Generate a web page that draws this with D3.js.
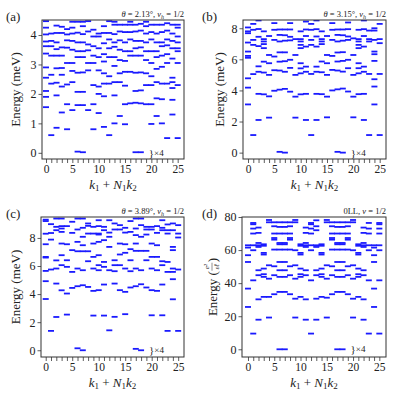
<!DOCTYPE html>
<html>
<head>
<meta charset="utf-8">
<script src="https://cdnjs.cloudflare.com/ajax/libs/d3/7.8.5/d3.min.js"></script>
<style>
  body { margin: 0; background: #fff; }
  svg text { font-family: "Liberation Serif", "Times New Roman", serif; fill: #222; }
</style>
</head>
<body>
<svg id="chart" width="397" height="397"></svg>
<script>
// momentum index k1 + N1 k2
var kIndex = [0, 1, 2, 3, 4, 5, 6, 7, 8, 9, 10, 11, 12, 13, 14, 15, 16, 17, 18, 19, 20, 21, 22, 23, 24, 25];

// energies per k (meV), theta = 2.13
var levelsA = [
  [4.47, 4.25, 4.02, 3.78, 3.62, 3.37, 2.9, 2.55, 2.1, 1.9, 1.55],
  [4.05, 3.8, 3.62, 3.3, 2.65, 2.35, 0.6],
  [4.32, 4.07, 3.75, 3.52, 3.3, 2.87, 2.38, 1.95, 0.85],
  [4.28, 4.07, 3.58, 3.3, 2.88, 2.65, 2.25, 1.37],
  [4.2, 4.02, 3.82, 3.57, 3.05, 2.32, 1.65, 0.8],
  [4.45, 4.25, 4.05, 3.8, 3.5, 3.05, 2.78, 2.4, 1.45],
  [4.45, 4.08, 3.75, 3.45, 3.25, 2.72, 2.07, 1.62, 0.04],
  [4.45, 4.3, 4.03, 3.75, 3.45, 3.25, 2.73, 2.07, 1.62, 0.02],
  [4.47, 4.12, 3.68, 3.48, 3.05, 2.8, 1.45],
  [4.18, 3.95, 3.62, 3.3, 3.05, 2.3, 1.65, 0.8],
  [4.05, 3.95, 3.55, 3.25, 2.8, 2.25, 2.0, 1.35],
  [4.3, 4.07, 3.72, 3.35, 3.1, 2.7, 2.35, 1.92, 0.88],
  [4.47, 4.07, 3.85, 3.55, 3.25, 2.6, 2.35, 0.6],
  [4.45, 4.35, 4.03, 3.75, 3.6, 3.25, 2.95, 2.4, 1.95, 1.0],
  [4.35, 4.12, 3.82, 3.5, 3.15, 2.7, 2.4, 1.25],
  [4.35, 4.1, 3.75, 3.45, 3.12, 2.75, 2.28, 1.65, 0.97],
  [4.45, 4.35, 4.1, 3.85, 3.45, 3.3, 2.75, 1.68],
  [4.35, 4.12, 3.8, 3.55, 3.3, 2.72, 2.1, 1.7, 0.02],
  [4.38, 4.15, 3.8, 3.58, 3.3, 2.73, 2.12, 1.68, 0.02],
  [4.45, 4.3, 4.05, 3.75, 3.45, 3.15, 2.7, 2.3, 1.65],
  [4.35, 4.1, 3.85, 3.45, 3.05, 2.6, 2.3, 1.65, 0.98],
  [4.35, 4.05, 3.75, 3.45, 3.25, 2.85, 2.4, 1.85, 1.25],
  [4.35, 4.1, 3.75, 3.62, 3.3, 2.92, 2.35, 1.82, 1.0],
  [4.4, 4.15, 3.85, 3.65, 3.35, 3.05, 2.35, 0.5],
  [4.35, 4.05, 3.8, 3.55, 3.2, 2.55, 2.4, 2.2, 1.8, 1.3],
  [4.35, 4.25, 3.95, 3.75, 3.55, 3.45, 3.05, 2.3, 0.5]
];

// theta = 3.15
var levelsB = [
  [8.05, 7.8, 7.68, 7.08, 6.5, 6.22, 6.1, 4.78, 4.18, 3.1],
  [8.28, 7.9, 7.25, 6.93, 5.05, 1.13],
  [8.5, 7.95, 7.45, 6.85, 5.55, 5.2, 3.78, 2.1],
  [7.8, 7.3, 7.15, 6.98, 6.72, 5.85, 5.15, 3.75],
  [7.5, 6.28, 5.75, 5.0, 3.62, 2.25],
  [8.33, 7.9, 7.25, 6.18, 5.3, 3.98],
  [7.92, 7.57, 7.15, 6.45, 5.85, 5.28, 4.05, 0.05],
  [7.92, 7.55, 7.2, 6.45, 5.88, 5.2, 4.1, 0.0],
  [8.33, 7.92, 7.45, 7.22, 5.97, 5.45, 3.92],
  [7.3, 6.28, 5.0, 3.6, 2.25],
  [7.8, 7.3, 7.15, 6.93, 6.72, 5.75, 5.42, 5.1, 3.75],
  [8.43, 7.92, 7.5, 6.82, 5.53, 5.2, 3.78, 2.1],
  [8.28, 7.9, 7.25, 6.93, 5.06, 1.13],
  [8.5, 7.94, 7.47, 6.82, 5.53, 5.2, 3.78, 2.1],
  [7.8, 7.3, 7.15, 6.98, 5.86, 5.17, 3.76],
  [7.5, 6.28, 5.75, 5.0, 3.6, 2.27],
  [8.33, 7.9, 7.25, 6.22, 5.32, 4.0],
  [7.92, 7.57, 7.15, 6.44, 5.86, 5.28, 4.07, 0.05],
  [7.92, 7.55, 7.2, 6.46, 5.9, 5.21, 4.12, 0.0],
  [8.37, 7.94, 7.47, 7.25, 5.97, 5.43, 3.93],
  [7.35, 6.28, 5.0, 3.6, 2.27],
  [7.9, 7.3, 7.15, 6.93, 6.72, 5.75, 5.43, 5.1, 3.76],
  [8.5, 7.94, 7.5, 6.82, 5.53, 5.2, 3.78, 2.1],
  [7.85, 7.3, 7.15, 5.06, 1.13],
  [8.0, 7.85, 7.25, 6.5, 6.33, 5.9, 4.72, 4.25, 3.1],
  [8.28, 7.3, 7.04, 5.06, 1.13]
];

// theta = 3.89
var levelsC = [
  [9.3, 9.2, 8.3, 7.55, 6.65, 6.6, 5.65, 4.92, 3.65],
  [8.98, 8.35, 7.88, 5.75, 1.38],
  [9.38, 8.79, 8.55, 6.4, 5.82, 4.75, 2.37],
  [9.38, 8.84, 8.67, 8.43, 7.6, 6.77, 6.06, 4.27],
  [8.84, 7.55, 6.41, 5.94, 4.04, 2.54],
  [9.15, 8.36, 7.13, 5.58, 4.44],
  [9.38, 8.6, 7.72, 7.05, 5.82, 4.56, 0.14],
  [9.38, 8.72, 8.08, 7.48, 7.05, 5.7, 4.63, 0.0],
  [9.03, 8.86, 8.31, 7.05, 6.34, 4.51],
  [8.79, 8.31, 7.6, 6.65, 5.82, 4.23, 2.47],
  [9.26, 8.84, 8.31, 8.24, 7.72, 6.77, 6.06, 5.7, 4.28],
  [8.79, 8.55, 7.84, 6.29, 5.94, 4.68, 2.47],
  [9.26, 8.38, 8.08, 7.36, 5.7, 1.42],
  [9.03, 8.6, 6.41, 6.06, 5.63, 4.75, 2.38],
  [8.91, 8.6, 7.6, 6.82, 6.06, 4.28],
  [8.72, 8.38, 7.55, 6.94, 5.82, 4.16, 2.57],
  [9.2, 8.43, 7.2, 6.41, 5.63, 4.47],
  [9.38, 8.67, 8.2, 7.6, 7.08, 5.82, 4.56, 0.1],
  [9.38, 8.91, 8.08, 7.08, 5.7, 4.7, 0.0],
  [8.79, 8.6, 8.24, 7.08, 6.41, 4.47],
  [8.79, 8.6, 7.6, 6.65, 5.82, 4.28, 2.49],
  [8.84, 8.36, 7.48, 6.65, 5.7, 4.23],
  [9.26, 8.72, 8.55, 6.34, 6.06, 4.68, 2.49],
  [8.96, 8.55, 8.31, 6.29, 5.58, 1.38],
  [9.03, 8.55, 7.36, 7.13, 5.82, 5.58, 5.06, 3.63],
  [8.91, 8.31, 8.03, 5.75, 1.38]
];

// zeroth Landau level, units e^2/(eps l)
var levelsD = [
  [62.9, 61.5, 56.9, 52.8, 36.7, 25.6],
  [76.4, 75.6, 73.0, 70.0, 62.9, 59.9, 41.7, 9.5],
  [73.6, 70.4, 64.3, 62.9, 61.9, 47.8, 44.8, 30.2, 17.9],
  [63.5, 62.6, 58.3, 57.3, 48.8, 45.4, 43.8, 31.7],
  [78.2, 76.8, 50.8, 42.7, 31.7, 19.2],
  [76.8, 74.4, 70.0, 67.3, 66.3, 60.3, 50.2, 44.8, 33.3],
  [76.8, 74.0, 70.0, 64.3, 63.5, 60.3, 52.8, 47.8, 43.8, 34.7, 0.0],
  [76.8, 74.0, 70.0, 64.3, 63.5, 60.3, 52.8, 47.8, 43.8, 34.7, 0.0],
  [76.8, 74.4, 70.0, 67.3, 66.3, 60.3, 50.2, 44.8, 33.3],
  [78.2, 76.8, 59.9, 50.8, 42.7, 30.6, 19.2],
  [63.5, 62.6, 58.3, 57.3, 48.8, 45.4, 43.8, 31.7],
  [73.6, 70.4, 64.3, 62.9, 61.9, 47.8, 44.8, 30.2, 17.9],
  [76.4, 75.6, 73.0, 70.0, 62.9, 59.9, 41.7, 9.5],
  [78.0, 74.4, 72.0, 62.9, 61.9, 47.8, 44.8, 30.6, 17.9],
  [63.5, 62.6, 58.3, 57.3, 48.8, 45.4, 43.8, 31.7],
  [78.2, 76.8, 50.8, 42.7, 31.2, 19.2],
  [76.8, 74.4, 70.0, 67.3, 66.3, 60.3, 50.2, 44.8, 33.3],
  [76.8, 74.0, 70.0, 64.3, 63.5, 60.3, 52.8, 47.8, 43.8, 34.7, 0.0],
  [76.8, 74.0, 70.0, 64.3, 63.5, 60.3, 52.8, 47.8, 43.8, 34.7, 0.0],
  [76.8, 74.4, 70.0, 67.3, 66.3, 60.3, 50.2, 44.8, 33.3],
  [78.2, 76.8, 59.9, 50.8, 42.7, 30.6, 19.2],
  [63.5, 62.6, 58.3, 57.3, 48.8, 45.4, 43.8, 31.7],
  [73.6, 70.4, 64.3, 62.9, 61.9, 47.8, 44.8, 30.2, 17.9],
  [76.4, 73.0, 70.0, 62.9, 59.9, 41.7, 9.5],
  [62.9, 61.5, 56.9, 52.8, 36.7, 25.6],
  [76.4, 75.6, 73.0, 70.0, 62.9, 59.9, 41.7, 9.5]
];

var xTickLabels = [0, 5, 10, 15, 20, 25];
var yTicksA = [0, 1, 2, 3, 4];
var yTicksB = [0, 2, 4, 6, 8];
var yTicksC = [0, 2, 4, 6, 8];
var yTicksD = [0, 20, 40, 60, 80];
var panelLabels = ["(a)", "(b)", "(c)", "(d)"];
var thetaLabels = ["2.13", "3.15", "3.89"];

var svg = d3.select("#chart");
var blue = "#1a1aff";
var axisColor = "#333";
var serif = "Liberation Serif, Times New Roman, serif";

function drawPanel(p, i) {
  var x = d3.scaleLinear().domain(p.xDom).range([p.left, p.right]);
  var y = d3.scaleLinear().domain(p.yDom).range([p.bottom, p.top]);
  var g = svg.append("g");

  g.append("clipPath").attr("id", "clip" + i)
    .append("rect")
    .attr("x", p.left).attr("y", p.top)
    .attr("width", p.right - p.left).attr("height", p.bottom - p.top);

  // flatten levels into points
  var pts = [];
  kIndex.forEach(function (k, j) {
    p.levels[j].forEach(function (e) { pts.push({ k: k, e: e }); });
  });

  g.append("g").attr("clip-path", "url(#clip" + i + ")")
    .selectAll("line").data(pts).enter().append("line")
    .attr("x1", d => x(d.k) - 3)
    .attr("x2", d => x(d.k) + 3)
    .attr("y1", d => y(d.e))
    .attr("y2", d => y(d.e))
    .attr("stroke", blue)
    .attr("stroke-width", 1.8);

  // x axis: tick every k, labels every 5
  var xAxis = d3.axisBottom(x).tickValues(kIndex).tickSize(4).tickPadding(1.5)
    .tickFormat(d => xTickLabels.indexOf(d) >= 0 ? d : "");
  var xg = g.append("g").attr("transform", "translate(0," + p.bottom + ")").call(xAxis);
  xg.attr("font-family", serif);
  xg.select(".domain").remove();
  xg.selectAll("line").attr("stroke", axisColor).attr("stroke-width", 0.8);
  xg.selectAll("text").attr("font-size", 11.5).attr("fill", "#222");

  var yAxis = d3.axisLeft(y).tickValues(p.yTicks).tickSize(3.5).tickPadding(2)
    .tickFormat(d3.format("d"));
  var yg = g.append("g").attr("transform", "translate(" + p.left + ",0)").call(yAxis);
  yg.attr("font-family", serif);
  yg.select(".domain").remove();
  yg.selectAll("line").attr("stroke", axisColor).attr("stroke-width", 0.8);
  yg.selectAll("text").attr("font-size", 12).attr("fill", "#222");

  g.append("rect")
    .attr("x", p.left).attr("y", p.top)
    .attr("width", p.right - p.left).attr("height", p.bottom - p.top)
    .attr("fill", "none").attr("stroke", axisColor).attr("stroke-width", 1);

  // x label k1 + N1k2
  var xl = g.append("text")
    .attr("x", (p.left + p.right) / 2).attr("y", p.bottom + 29.5)
    .attr("text-anchor", "middle").attr("font-size", 13);
  xl.append("tspan").attr("font-style", "italic").text("k");
  xl.append("tspan").attr("font-size", 9).attr("dy", 2.5).text("1");
  xl.append("tspan").attr("dy", -2.5).text(" + ");
  xl.append("tspan").attr("font-style", "italic").text("N");
  xl.append("tspan").attr("font-size", 9).attr("dy", 2.5).text("1");
  xl.append("tspan").attr("font-style", "italic").attr("dy", -2.5).text("k");
  xl.append("tspan").attr("font-size", 9).attr("dy", 2.5).text("2");

  // y label
  var cy = (p.top + p.bottom) / 2;
  var yl = g.append("g").attr("transform", "translate(" + p.ylabX + "," + cy + ") rotate(-90)");
  if (p.fracLabel) {
    var t1 = yl.append("text").attr("font-size", 13).attr("dominant-baseline", "central").text("Energy (");
    var w1 = t1.node().getComputedTextLength();
    var fw = 9;
    var t3 = yl.append("text").attr("font-size", 13).attr("dominant-baseline", "central").text(")");
    var w3 = t3.node().getComputedTextLength();
    var x0 = -(w1 + fw + w3) / 2;
    t1.attr("x", x0);
    yl.append("text").attr("x", x0 + w1 + fw / 2).attr("y", -3).attr("font-size", 7)
      .attr("text-anchor", "middle").attr("font-style", "italic").text("e²");
    yl.append("line").attr("x1", x0 + w1 + 0.5).attr("x2", x0 + w1 + fw - 0.5)
      .attr("y1", 0).attr("y2", 0).attr("stroke", "#222").attr("stroke-width", 0.5);
    yl.append("text").attr("x", x0 + w1 + fw / 2).attr("y", 6.5).attr("font-size", 7)
      .attr("text-anchor", "middle").attr("font-style", "italic").text("εℓ");
    t3.attr("x", x0 + w1 + fw);
  } else {
    yl.append("text").attr("text-anchor", "middle").attr("dominant-baseline", "central")
      .attr("font-size", 13).text("Energy (meV)");
  }

  // panel title at upper right
  var tt = g.append("text").attr("x", p.right).attr("y", p.top - 3)
    .attr("text-anchor", "end").attr("font-size", 8.5);
  if (p.theta) {
    tt.append("tspan").attr("font-style", "italic").text("θ");
    tt.append("tspan").text(" = " + p.theta + "°, ");
    tt.append("tspan").attr("font-style", "italic").text("ν");
    tt.append("tspan").attr("font-size", 6).attr("dy", 1.8).attr("font-style", "italic").text("h");
    tt.append("tspan").attr("dy", -1.8).text(" = 1/2");
  } else {
    tt.append("tspan").text("0LL, ");
    tt.append("tspan").attr("font-style", "italic").text("ν");
    tt.append("tspan").text(" = 1/2");
  }

  // panel letter
  g.append("text").attr("x", p.letterX).attr("y", p.letterY)
    .attr("font-size", 13).text(panelLabels[i]);

  // fourfold degeneracy note
  var an = g.append("text").attr("x", x(18) + 8).attr("y", y(0))
    .attr("dominant-baseline", "central").attr("font-size", 9);
  an.append("tspan").attr("font-size", 11).text("}");
  an.append("tspan").text("×4");
}

var panels = [
  { left: 42, right: 184, top: 20, bottom: 159, xDom: [-0.76, 26.2], yDom: [-0.21, 4.51],
    levels: levelsA, yTicks: yTicksA, ylabX: 15, theta: thetaLabels[0], letterX: 6, letterY: 21 },
  { left: 243, right: 386, top: 20, bottom: 159, xDom: [-0.95, 26.2], yDom: [-0.41, 8.53],
    levels: levelsB, yTicks: yTicksB, ylabX: 219, theta: thetaLabels[1], letterX: 202, letterY: 21 },
  { left: 41, right: 184, top: 217, bottom: 357, xDom: [-0.89, 26.1], yDom: [-0.48, 9.49],
    levels: levelsC, yTicks: yTicksC, ylabX: 15, theta: thetaLabels[2], letterX: 6, letterY: 218 },
  { left: 242, right: 386, top: 217, bottom: 357, xDom: [-1.14, 26.27], yDom: [-4.66, 80.0],
    levels: levelsD, yTicks: yTicksD, ylabX: 212, fracLabel: true, letterX: 202, letterY: 218 }
];

panels.forEach(drawPanel);
</script>
</body>
</html>
